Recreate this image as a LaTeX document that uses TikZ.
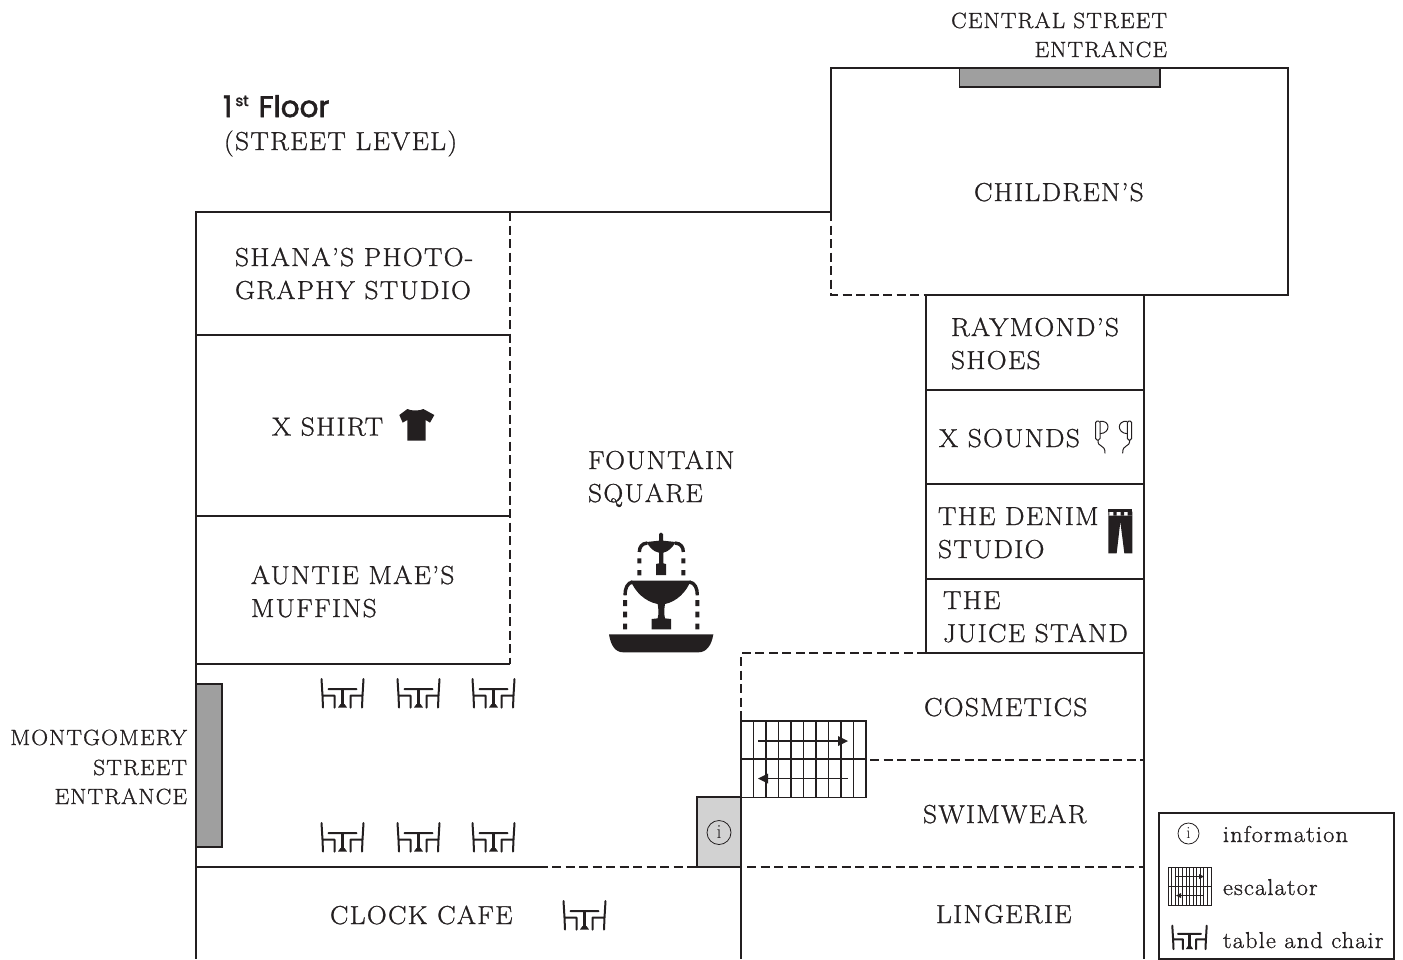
\documentclass[tikz,border=0pt]{standalone}
\usepackage{fontspec}
\newfontfamily\lab[LetterSpace=5,FakeStretch=1.06,FakeBold=1]{Latin Modern Roman}
\newfontfamily\head[FakeBold=2.2]{Poppins}
\definecolor{ink}{HTML}{231F20}
\tikzset{
  x=1pt,y=-1pt,
  wall/.style={draw=ink,line width=1.8pt},
  dash wall/.style={draw=ink,line width=1.8pt,dash pattern=on 9pt off 4.5pt},
  grayblock/.style={draw=ink,line width=1.6pt,fill=#1},
  lbl/.style={inner sep=0,outer sep=0,text=ink,anchor=base west,font=\lab\fontsize{26}{30}\selectfont},
  small/.style={lbl,font=\lab\fontsize{22}{28}\selectfont},
  smallr/.style={small,anchor=base east},
  legendtxt/.style={lbl,font=\lab\fontsize{23}{28}\selectfont},
  tablechair/.pic={
    \draw[ink,line width=2pt,line cap=round,line join=round]
      (-21,-15) -- (-20,1.7) -- (-19.5,13.5) (-20,1.7) -- (-8,1.7) -- (-8,13.5)
      (21,-15) -- (20,1.7) -- (19.5,13.5) (20,1.7) -- (8,1.7) -- (8,13.5)
      (-14,-5) -- (14,-5);
    \draw[ink,line width=2.6pt] (0,-5) -- (0,12);
    \fill[ink] (-4.5,13.5) -- (-2,10) -- (2,10) -- (4.5,13.5) -- cycle;
  },
  infosign/.style={circle,draw=ink,line width=.8pt,inner sep=0,minimum size=#1,text=ink,font=\fontsize{20}{22}\selectfont},
}
\begin{document}
\begin{tikzpicture}
\useasboundingbox (0,0) rectangle (1403,959);
% Children's department and entrance
\draw[wall] (831,212) -- (831,68) -- (1288,68) -- (1288,295) -- (926,295);
\draw[dash wall] (831,212) -- (831,295) -- (926,295);
\draw[grayblock=gray!75] (959.5,68) rectangle (1160,87);
% West block
\draw[wall] (831,212) -- (196,212) -- (196,959);
\draw[dash wall] (510,212) -- (510,664);
\draw[wall] (196,335) -- (510,335) (196,516) -- (510,516) (196,664) -- (510,664);
\draw[grayblock=gray!75] (196,684) rectangle (222,847);
% East column
\draw[wall] (926,295) -- (926,653) (1144,295) -- (1144,959);
\draw[wall] (926,390) -- (1144,390) (926,484) -- (1144,484) (926,579) -- (1144,579) (926,653) -- (1144,653);
\draw[dash wall] (926,653) -- (741,653) -- (741,721);
\draw[wall] (741,721) -- (741,959);
\draw[dash wall] (870,760) -- (1144,760);
% Bottom
\draw[wall] (196,867) -- (548,867);
\draw[dash wall] (552,867) -- (697,867);
\draw[dash wall] (747,867) -- (1144,867);
\draw[grayblock=gray!35] (697,797) rectangle (741,867);
\node[infosign=24pt] (infomain) at (719,832.5) {i};
% Escalator
\draw[ink,line width=1.3pt] (741,721) rectangle (866,797.5) (741,759) -- (866,759);
\foreach \i in {1,...,9}{\draw[ink,line width=1.2pt] ({741+12.5*\i},721) -- ({741+12.5*\i},797.5);}
\draw[ink,line width=1.8pt] (803.5,721) -- (803.5,797.5);
\draw[ink,line width=1.6pt] (758,741) -- (840,741);
\fill[ink] (848,741) -- (838,736) -- (838,746) -- cycle;
\draw[ink,line width=1.6pt] (766,778.5) -- (848,778.5);
\fill[ink] (758,778.5) -- (768,773.5) -- (768,783.5) -- cycle;
% Fountain
\begin{scope}[shift={(590,520)},x=1/3*1pt,y=-1/3*1pt]
\fill[ink] (57,343) -- (370,343) .. controls (365,375) and (350,397) .. (325,397) -- (100,397) .. controls (75,397) and (62,375) .. (57,343) -- cycle;
\fill[ink] (185,328) -- (185,297) -- (203,295) .. controls (207,280) and (205,265) .. (203,252) .. controls (165,245) and (135,215) .. (122,182) -- (302,182) .. controls (290,215) and (260,245) .. (225,252) .. controls (223,265) and (221,280) .. (225,295) -- (243,297) -- (243,328) -- cycle;
\fill[ink] (198,165) -- (198,132) -- (207,130) -- (207,98) .. controls (190,95) and (178,82) .. (170,66) -- (207,62) -- (207,42) .. controls (209,36) and (217,36) .. (219,42) -- (219,62) -- (257,66) .. controls (248,82) and (235,95) .. (220,98) -- (220,130) -- (228,132) -- (228,165) -- cycle;
\draw[ink,line width=3.4pt] (105,226) .. controls (105,205) and (112,188) .. (128,186);
\draw[ink,line width=3.4pt] (322,226) .. controls (322,205) and (315,188) .. (298,186);
\draw[ink,line width=3.4pt] (148,96) .. controls (148,82) and (155,70) .. (172,69);
\draw[ink,line width=3.4pt] (280,96) .. controls (280,82) and (273,70) .. (255,69);
\foreach \x in {148,280}{\fill[ink] (\x-6,115) rectangle (\x+6,130) (\x-6,150) rectangle (\x+6,166);}
\foreach \x in {105,322}{\fill[ink] (\x-6,240) rectangle (\x+6,258) (\x-6,275) rectangle (\x+6,292) (\x-6,311) rectangle (\x+6,328);}
\end{scope}
% Tables
\foreach \x in {342.5,418.5,493.5}{
  \path (\x,694) pic {tablechair};
  \path (\x,838) pic {tablechair};
}
\path (584.5,916) pic {tablechair};
% T-shirt
\begin{scope}[shift={(390,400)},x=1/3*1pt,y=-1/3*1pt]
\fill[ink] (28,45) -- (52,27) .. controls (62,33) and (90,33) .. (100,27) -- (133,45) -- (120,68) -- (107,60) -- (107,122) -- (52,122) -- (52,60) -- (38,68) -- cycle;
\end{scope}
% Earphones and jeans
\begin{scope}[shift={(1080,400)},x=1/3*1pt,y=-1/3*1pt]
\draw[ink,line width=1pt,rounded corners=1.5pt] (47,63) rectangle (60,120);
\draw[ink,line width=1pt] (60,64) .. controls (92,60) and (92,100) .. (60,101);
\draw[ink,line width=1pt] (54,120) .. controls (52,145) and (76,130) .. (75,160);
\draw[ink,line width=1pt,rounded corners=1.5pt] (142,63) rectangle (155,120);
\draw[ink,line width=1pt] (142,64) .. controls (110,60) and (110,100) .. (142,101);
\draw[ink,line width=1pt] (149,120) .. controls (150,145) and (127,130) .. (128,160);
\fill[ink] (85,328) rectangle (157,335);
\fill[ink] (85,335) rectangle (88,347) (100,335) rectangle (110,347) (122,335) rectangle (132,347) (143,335) rectangle (157,347);
\fill[ink] (85,347) -- (157,347) -- (157,460) -- (133,460) -- (121,365) -- (110,460) -- (85,460) -- cycle;
\end{scope}
% Labels
\node[smallr] (central1) at (1167,28) {CENTRAL STREET};
\node[smallr] (central2) at (1167,57) {ENTRANCE};
\node[lbl,font=\head\fontsize{29.5}{32}\selectfont] (floor) at (223,117) {1\hspace{3pt}\raisebox{11pt}{\fontsize{15}{16}\selectfont st}\hspace{2pt} Floor};
\node[lbl] (level) at (224,150) {(STREET LEVEL)};
\node[lbl] (childrens) at (974,201) {CHILDREN’S};
\node[lbl] (shana1) at (235,266) {SHANA’S PHOTO-};
\node[lbl] (shana2) at (235,299) {GRAPHY STUDIO};
\node[lbl] (xshirt) at (272,435.5) {X SHIRT};
\node[lbl] (auntie1) at (251,584) {AUNTIE MAE’S};
\node[lbl] (auntie2) at (251,617) {MUFFINS};
\node[lbl] (fountain1) at (588,469) {FOUNTAIN};
\node[lbl] (fountain2) at (588,502) {SQUARE};
\node[lbl] (raymond1) at (951,336) {RAYMOND’S};
\node[lbl] (raymond2) at (951,369) {SHOES};
\node[lbl] (xsounds) at (939,447) {X SOUNDS};
\node[lbl] (denim1) at (938,525) {THE DENIM};
\node[lbl] (denim2) at (938,558) {STUDIO};
\node[lbl] (juice1) at (943,609) {THE};
\node[lbl] (juice2) at (943,642) {JUICE STAND};
\node[lbl] (cosmetics) at (924,716) {COSMETICS};
\node[lbl] (swimwear) at (923,823) {SWIMWEAR};
\node[lbl] (lingerie) at (936,923) {LINGERIE};
\node[lbl] (cafe) at (330,924) {CLOCK CAFE};
\node[smallr] (mont1) at (187,745) {MONTGOMERY};
\node[smallr] (mont2) at (187,775) {STREET};
\node[smallr] (mont3) at (187,804) {ENTRANCE};
% Legend
\draw[wall,line width=1.5pt] (1159,813) rectangle (1394,959);
\node[infosign=21pt,font=\fontsize{17}{18}\selectfont] (infoleg) at (1188.5,833.5) {i};
\node[legendtxt] (leg1) at (1223,842) {information};
\node[legendtxt] (leg2) at (1223,895) {escalator};
\node[legendtxt] (leg3) at (1223,948) {table and chair};
\draw[ink,line width=1pt] (1168,867) rectangle (1211,905) (1168,886) -- (1211,886);
\foreach \i in {1,...,11}{\draw[ink,line width=.8pt] ({1168+43/12*\i},867) -- ({1168+43/12*\i},905);}
\draw[ink,line width=1pt] (1175,876.5) -- (1200,876.5);
\fill[ink] (1204,876.5) -- (1199,874) -- (1199,879) -- cycle;
\draw[ink,line width=1pt] (1180,895.5) -- (1204,895.5);
\fill[ink] (1176,895.5) -- (1181,893) -- (1181,898) -- cycle;
\path (1189.5,938) pic[scale=.82] {tablechair};
\end{tikzpicture}
\end{document}
